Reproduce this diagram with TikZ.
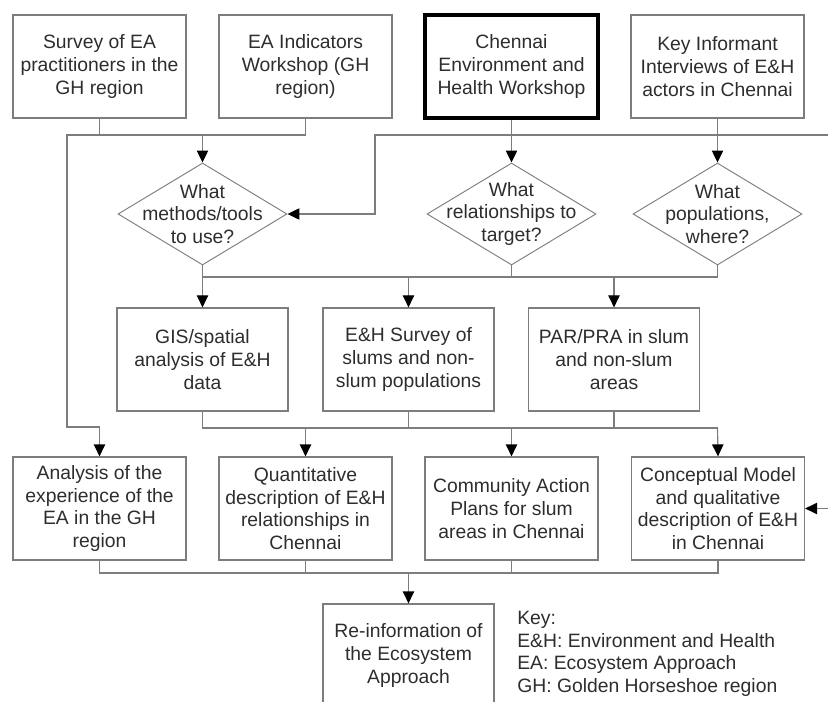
\documentclass[tikz,border=0pt]{standalone}
\usepackage{fontspec}
\setmainfont{Liberation Sans}
\usepackage{xcolor}
\usepackage{tikz}
\usetikzlibrary{arrows.meta,shapes.geometric}
\definecolor{linegray}{RGB}{125,125,125}
\definecolor{textgray}{RGB}{45,45,45}
\tikzset{
box/.style = {rectangle, draw=linegray, line width=0.9pt, minimum width = #1, minimum height=77.25pt, align=center, text=textgray, inner sep=2pt},
box/.default = 129.75pt, % width of the boxes
quest/.style = {diamond, draw=linegray, line width=0.7pt, minimum width=126.75pt, minimum height=76.5pt, inner sep=0pt},
qtext/.style = {align=center, text=textgray, inner sep=0pt},
link/.style = {draw=linegray, line width=0.9pt},
arr/.style = {link, -{Triangle[length=9pt, width=8.5pt, color=black]}},
}

\begin{document}
\begin{tikzpicture}[x=0.75pt, y=-0.75pt, font=\fontsize{14.5pt}{17pt}\selectfont]
    \clip (0,0) rectangle (828,702);
    \useasboundingbox (0,0) rectangle (828,702);
    % top row
    \node[box] (survey) at (99.5,66.5) {Survey of EA\\practitioners in the\\GH region};
    \node[box] (indic) at (305.5,66.5) {EA Indicators\\Workshop (GH\\region)};
    \node[box, draw=black, line width=2.4pt] (chws) at (511.5,66.5) {Chennai\\Environment and\\Health Workshop};
    \node[box] (kii) at (717.5,66.5) {Key Informant\\Interviews of E\&H\\actors in Chennai};
    % questions
    \node[quest, label={[qtext]center:What\\methods/tools\\to use?}] (qtools) at (202.5,214) {};
    \node[quest, label={[qtext]center:What\\relationships to\\target?}] (qrel) at (511.5,214) {};
    \node[quest, label={[qtext]center:What\\populations,\\where?}] (qpop) at (717.5,214) {};
    % middle row
    \node[box=128.25pt] (gis) at (202.5,359.5) {GIS/spatial\\analysis of E\&H\\data};
    \node[box=128.25pt] (ehs) at (408.5,359.5) {E\&H Survey of\\slums and non-\\slum populations};
    \node[box=128.25pt] (par) at (614,359.5) {PAR/PRA in slum\\and non-slum\\areas};
    % bottom row
    \node[box] (anal) at (99.5,508.5) {Analysis of the\\experience of the\\EA in the GH\\region};
    \node[box] (quant) at (305.5,508.5) {Quantitative\\description of E\&H\\relationships in\\Chennai};
    \node[box] (cap) at (511.5,508.5) {Community Action\\Plans for slum\\areas in Chennai};
    \node[box] (model) at (718,508.5) {Conceptual Model\\and qualitative\\description of E\&H\\in Chennai};
    \node[box=128.25pt] (reinf) at (408.5,655.5) {Re-information of\\the Ecosystem\\Approach};
    \node[anchor=north west, align=left, text=textgray, inner sep=0pt] (key) at (517,611) {Key:\\E\&H: Environment and Health\\EA: Ecosystem Approach\\GH: Golden Horseshoe region};

    \coordinate (fbtop) at (828,135);
    \coordinate (fbbot) at (828,508.5);
    \coordinate (bend) at (375,135);

    % first bus
    \draw[link] (survey.south) |- (305.5,135) -- (indic.south);
    \draw[link] (99.5,135) -- (67,135) |- (99.5,427);
    \draw[arr]  (99.5,427) -- (anal.north);
    \draw[arr]  (202.5,135) -- (qtools.north);
    \draw[arr]  (fbtop) -- (bend) |- (qtools.east);
    \draw[arr]  (chws.south) -- (qrel.north);
    \draw[arr]  (kii.south) -- (qpop.north);
    % second bus
    \draw[link] (qtools.south) |- (717.5,277) -- (qpop.south);
    \draw[link] (qrel.south) -- (511.5,277);
    \draw[arr]  (202.5,277) -- (gis.north);
    \draw[arr]  (408.5,277) -- (ehs.north);
    \draw[arr]  (614,277) -- (par.north);
    % third bus
    \draw[link] (gis.south) |- (717.5,428);
    \draw[link] (ehs.south) -- (408.5,428);
    \draw[link] (par.south) -- (614,428);
    \draw[arr]  (305.5,428) -- (quant.north);
    \draw[arr]  (511.5,428) -- (cap.north);
    \draw[arr]  (717.5,428) -- (model.north);
    \draw[arr]  (fbbot) -- (model.east);
    % last bus
    \draw[link] (anal.south) |- (718,573) -- (model.south);
    \draw[link] (quant.south) -- (305.5,573);
    \draw[link] (cap.south) -- (511.5,573);
    \draw[arr]  (408.5,573) -- (reinf.north);
\end{tikzpicture}
\end{document}
